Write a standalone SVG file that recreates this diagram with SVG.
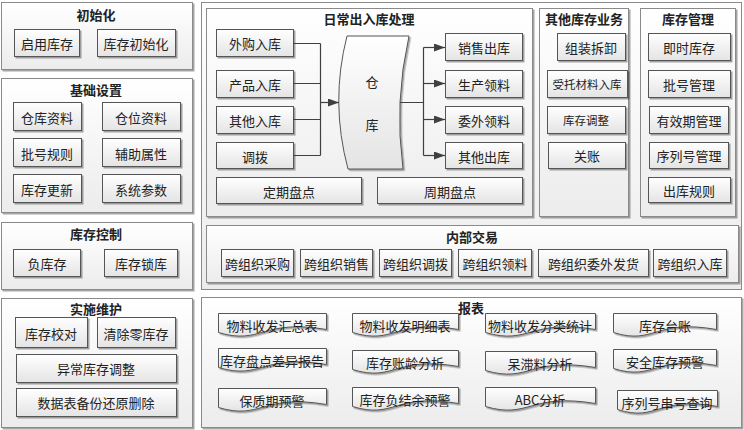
<svg xmlns="http://www.w3.org/2000/svg" width="744" height="430" viewBox="0 0 744 430">
<defs>
<linearGradient id="gp" x1="0" y1="0" x2="0" y2="1"><stop offset="0" stop-color="#ffffff"/><stop offset="1" stop-color="#ececec"/></linearGradient>
<linearGradient id="gb" x1="0" y1="0" x2="0" y2="1"><stop offset="0" stop-color="#ffffff"/><stop offset="1" stop-color="#e4e4e4"/></linearGradient>
<filter id="sh" x="-10%" y="-10%" width="130%" height="140%"><feDropShadow dx="1.5" dy="1.5" stdDeviation="0.7" flood-color="#000" flood-opacity="0.35"/></filter>
<marker id="ar" markerUnits="userSpaceOnUse" markerWidth="11" markerHeight="8" refX="11" refY="4" orient="auto"><path d="M0,0 L11,4 L0,8 Z" fill="#404040"/></marker>
<style>
.panel{fill:url(#gp);stroke:#8a8a8a;stroke-width:1;filter:url(#sh)}
.frame{fill:url(#gp);stroke:#8a8a8a;stroke-width:1}
.btn{fill:url(#gb);stroke:#555;stroke-width:1;filter:url(#sh)}
.doc{fill:url(#gb);stroke:#555;stroke-width:1;filter:url(#sh)}
.t{font-family:"Noto Sans CJK SC","Noto Sans",sans-serif;font-size:13px;fill:#222;text-anchor:middle;dominant-baseline:central}
.h{font-weight:bold}
.s{font-size:11.5px}
.ln{fill:none;stroke:#404040;stroke-width:1.2}
</style>
</defs>
<rect width="744" height="430" fill="#ffffff"/>

<g id="init">
<rect class="panel" x="1.5" y="2.5" width="191" height="67"/>
<text class="t h" x="96" y="14">初始化</text>
<rect class="btn" x="14.5" y="29.5" width="65" height="27"/><text class="t" x="47" y="43">启用库存</text>
<rect class="btn" x="97.5" y="29.5" width="78" height="27"/><text class="t" x="136" y="43">库存初始化</text>
</g>

<g id="basic">
<rect class="panel" x="1.5" y="78.5" width="191" height="134"/>
<text class="t h" x="96" y="89">基础设置</text>
<rect class="btn" x="13.5" y="102.5" width="68" height="28"/><text class="t" x="47" y="117">仓库资料</text>
<rect class="btn" x="102.5" y="102.5" width="78" height="28"/><text class="t" x="141" y="117">仓位资料</text>
<rect class="btn" x="13.5" y="138.5" width="68" height="28"/><text class="t" x="47" y="153">批号规则</text>
<rect class="btn" x="102.5" y="138.5" width="78" height="28"/><text class="t" x="141" y="153">辅助属性</text>
<rect class="btn" x="13.5" y="174.5" width="68" height="28"/><text class="t" x="47" y="189">库存更新</text>
<rect class="btn" x="102.5" y="174.5" width="78" height="28"/><text class="t" x="141" y="189">系统参数</text>
</g>

<g id="ctrl">
<rect class="panel" x="1.5" y="222.5" width="191" height="67"/>
<text class="t h" x="96" y="233">库存控制</text>
<rect class="btn" x="13.5" y="249.5" width="67" height="27"/><text class="t" x="47" y="263">负库存</text>
<rect class="btn" x="104.5" y="249.5" width="73" height="27"/><text class="t" x="141" y="263">库存锁库</text>
</g>

<g id="impl">
<rect class="panel" x="1.5" y="298.5" width="191" height="129"/>
<text class="t h" x="96" y="308">实施维护</text>
<rect class="btn" x="15.5" y="317.5" width="72" height="30"/><text class="t" x="51" y="333">库存校对</text>
<rect class="btn" x="97.5" y="317.5" width="78" height="30"/><text class="t" x="136" y="333">清除零库存</text>
<rect class="btn" x="16.5" y="354.5" width="160" height="28"/><text class="t" x="96" y="368">异常库存调整</text>
<rect class="btn" x="16.5" y="388.5" width="160" height="28"/><text class="t" x="96" y="402">数据表备份还原删除</text>
</g>

<rect class="frame" x="201.5" y="2.5" width="540" height="287"/>

<g id="daily">
<rect class="panel" x="206.5" y="8.5" width="326" height="208"/>
<text class="t h" x="369" y="18">日常出入库处理</text>
</g>
<g id="in1"><rect class="btn" x="216.5" y="29.5" width="77" height="27"/><text class="t" x="255" y="43">外购入库</text></g>
<g id="in2"><rect class="btn" x="216.5" y="70.5" width="77" height="27"/><text class="t" x="255" y="84">产品入库</text></g>
<g id="in3"><rect class="btn" x="216.5" y="106.5" width="77" height="27"/><text class="t" x="255" y="120">其他入库</text></g>
<g id="in4"><rect class="btn" x="216.5" y="142.5" width="77" height="26"/><text class="t" x="255" y="156">调拨</text></g>
<g id="wh">
<path class="btn" d="M347,36 L409,36 Q394,102 403,169 L348,169 Q330,102 347,36 Z"/>
<text class="t" x="372" y="81">仓</text>
<text class="t" x="372" y="124">库</text>
</g>
<g id="out1"><rect class="btn" x="445.5" y="33.5" width="77" height="27"/><text class="t" x="484" y="47">销售出库</text></g>
<g id="out2"><rect class="btn" x="445.5" y="70.5" width="77" height="27"/><text class="t" x="484" y="84">生产领料</text></g>
<g id="out3"><rect class="btn" x="445.5" y="106.5" width="77" height="27"/><text class="t" x="484" y="120">委外领料</text></g>
<g id="out4"><rect class="btn" x="445.5" y="142.5" width="77" height="26"/><text class="t" x="484" y="156">其他出库</text></g>
<g id="count1"><rect class="btn" x="216.5" y="177.5" width="145" height="26"/><text class="t" x="289" y="191">定期盘点</text></g>
<g id="count2"><rect class="btn" x="377.5" y="177.5" width="145" height="26"/><text class="t" x="450" y="191">周期盘点</text></g>

<g id="connectors">
<path class="ln" d="M293,43.5 H320.5 M293,83.5 H320.5 M293,119.5 H320.5 M293,155.5 H320.5 M320.5,43.5 V155.5"/>
<path class="ln" d="M320.5,102.5 H339" marker-end="url(#ar)"/>
<path class="ln" d="M400,102.5 H423.5 M423.5,47.5 V155.5"/>
<path class="ln" d="M423.5,47.5 H445" marker-end="url(#ar)"/>
<path class="ln" d="M423.5,83.5 H445" marker-end="url(#ar)"/>
<path class="ln" d="M423.5,119.5 H445" marker-end="url(#ar)"/>
<path class="ln" d="M423.5,155.5 H445" marker-end="url(#ar)"/>
</g>

<g id="other">
<rect class="panel" x="539.5" y="8.5" width="89" height="208"/>
<text class="t h" x="584" y="18">其他库存业务</text>
<rect class="btn" x="557.5" y="33.5" width="68" height="27"/><text class="t" x="591" y="47">组装拆卸</text>
<rect class="btn" x="547.5" y="70.5" width="80" height="27"/><text class="t s" x="587" y="84">受托材料入库</text>
<rect class="btn" x="547.5" y="106.5" width="78" height="27"/><text class="t s" x="586" y="120">库存调整</text>
<rect class="btn" x="548.5" y="142.5" width="77" height="26"/><text class="t" x="587" y="155">关账</text>
</g>

<g id="mgmt">
<rect class="panel" x="640.5" y="8.5" width="95" height="208"/>
<text class="t h" x="688" y="18">库存管理</text>
<rect class="btn" x="648.5" y="33.5" width="82" height="27"/><text class="t" x="689" y="47">即时库存</text>
<rect class="btn" x="648.5" y="70.5" width="82" height="27"/><text class="t" x="689" y="84">批号管理</text>
<rect class="btn" x="649.5" y="106.5" width="79" height="27"/><text class="t" x="689" y="120">有效期管理</text>
<rect class="btn" x="649.5" y="142.5" width="79" height="26"/><text class="t" x="689" y="155">序列号管理</text>
<rect class="btn" x="648.5" y="177.5" width="82" height="25"/><text class="t" x="689" y="190">出库规则</text>
</g>

<g id="internal">
<rect class="panel" x="206.5" y="225.5" width="532" height="57"/>
<text class="t h" x="472" y="236">内部交易</text>
<rect class="btn" x="221.5" y="249.5" width="72" height="27"/><text class="t" x="257.5" y="263">跨组织采购</text>
<rect class="btn" x="300.5" y="249.5" width="72" height="27"/><text class="t" x="336.5" y="263">跨组织销售</text>
<rect class="btn" x="379.5" y="249.5" width="72" height="27"/><text class="t" x="415.5" y="263">跨组织调拨</text>
<rect class="btn" x="458.5" y="249.5" width="73" height="27"/><text class="t" x="495" y="263">跨组织领料</text>
<rect class="btn" x="538.5" y="249.5" width="110" height="27"/><text class="t" x="593.5" y="263">跨组织委外发货</text>
<rect class="btn" x="653.5" y="249.5" width="73" height="27"/><text class="t" x="690" y="263">跨组织入库</text>
</g>

<g id="report">
<rect class="panel" x="201.5" y="297.5" width="540" height="130"/>
<text class="t h" x="471" y="307">报表</text>
<path class="doc" d="M218.5,313.5 H326.5 V329.5 C261.7,318.5 261.7,345.5 218.5,332.5 Z"/><text class="t" x="272" y="325">物料收发汇总表</text>
<path class="doc" d="M352.5,313.5 H458.5 V329.5 C394.9,318.5 394.9,345.5 352.5,332.5 Z"/><text class="t" x="405" y="325">物料收发明细表</text>
<path class="doc" d="M485.5,313.5 H595.5 V329.5 C529.5,318.5 529.5,345.5 485.5,332.5 Z"/><text class="t" x="540" y="325">物料收发分类统计</text>
<path class="doc" d="M613.5,313.5 H716.5 V329.5 C654.7,318.5 654.7,345.5 613.5,332.5 Z"/><text class="t" x="665" y="325">库存台账</text>

<path class="doc" d="M218.5,348.5 H326.5 V364.5 C261.7,353.5 261.7,380.5 218.5,367.5 Z"/><text class="t" x="272" y="360">库存盘点差异报告</text>
<path class="doc" d="M352.5,350.5 H458.5 V366.5 C394.9,355.5 394.9,382.5 352.5,369.5 Z"/><text class="t" x="405" y="362">库存账龄分析</text>
<path class="doc" d="M485.5,351.5 H595.5 V367.5 C529.5,356.5 529.5,383.5 485.5,370.5 Z"/><text class="t" x="540" y="363">呆滞料分析</text>
<path class="doc" d="M613.5,349.5 H716.5 V365.5 C654.7,354.5 654.7,381.5 613.5,368.5 Z"/><text class="t" x="665" y="361">安全库存预警</text>

<path class="doc" d="M218.5,388.5 H326.5 V404.5 C261.7,393.5 261.7,420.5 218.5,407.5 Z"/><text class="t" x="272" y="400">保质期预警</text>
<path class="doc" d="M352.5,387.5 H458.5 V403.5 C394.9,392.5 394.9,419.5 352.5,406.5 Z"/><text class="t" x="405" y="399">库存负结余预警</text>
<path class="doc" d="M485.5,387.5 H595.5 V403.5 C529.5,392.5 529.5,419.5 485.5,406.5 Z"/><text class="t" x="540" y="399">ABC分析</text>
<path class="doc" d="M617.5,390.5 H717.5 V406.5 C657.5,395.5 657.5,422.5 617.5,409.5 Z"/><text class="t" x="667" y="402">序列号串号查询</text>
</g>
</svg>
